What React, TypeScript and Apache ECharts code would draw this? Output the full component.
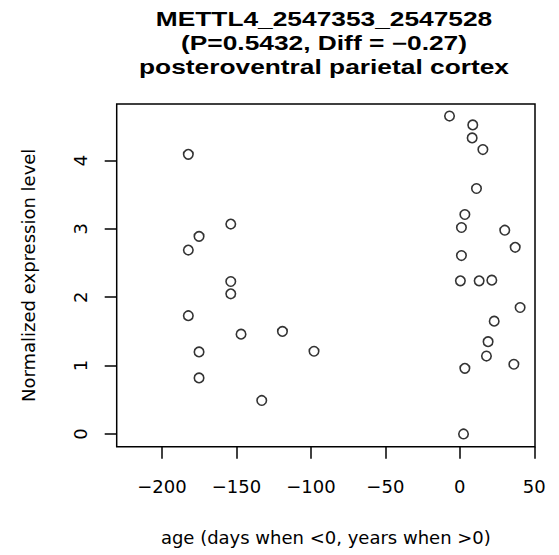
import React, { useEffect, useRef } from "react";
import * as echarts from "echarts";

const titleLines = [
  "METTL4_2547353_2547528",
  "(P=0.5432, Diff = \u22120.27)",
  "posteroventral parietal cortex",
];
const xAxisTitle = "age (days when <0, years when >0)";
const yAxisTitle = "Normalized expression level";

const xTicks = [-200, -150, -100, -50, 0, 50];
const yTicks = [0, 1, 2, 3, 4];

const ages = [
  -182.3, -6.9, 8.7, 8.3, 15.5, 11.2, 3.4, 1.1, 30.2, 37.2, 1.1, 0.4, 13.0,
  21.5, 40.5, 23.1, 19.0, 17.9, 36.3, 3.4, 2.5, -153.8, -175.1, -182.3,
  -153.8, -153.8, -182.3, -146.9, -119.1, -175.1, -97.9, -175.1, -133.0,
];
const expression = [
  4.09, 4.65, 4.52, 4.33, 4.16, 3.59, 3.21, 3.02, 2.98, 2.73, 2.61, 2.24, 2.24,
  2.25, 1.85, 1.65, 1.35, 1.14, 1.02, 0.96, 0.0, 3.07, 2.89, 2.69, 2.23, 2.05,
  1.73, 1.46, 1.5, 1.2, 1.21, 0.82, 0.49,
];

const FONT = "'Liberation Sans', Arial, Helvetica, sans-serif";
const WIDE = "'DejaVu Sans', 'Liberation Sans', sans-serif";

export default function App() {
  const ref = useRef<HTMLDivElement>(null);
  useEffect(() => {
    if (!ref.current) return;
    const chart = echarts.init(ref.current, null, { renderer: "svg" });
    const gridLeft = 116.7;
    const gridRight = 535;
    const gridTop = 104;
    const gridBottom = 446.7;
    const cx = 324;
    const lineCenters = [19.7, 43.7, 67.7];
    chart.setOption({
      animation: false,
      backgroundColor: "#ffffff",
      textStyle: { fontFamily: FONT },
      grid: {
        left: gridLeft,
        top: gridTop,
        width: gridRight - gridLeft,
        height: gridBottom - gridTop,
        show: true,
        borderColor: "#000000",
        borderWidth: 1.5,
        backgroundColor: "transparent",
      },
      graphic: lineCenters.map((y, i) => ({
        type: "text",
        x: cx,
        y,
        scaleX: 1.35,
        style: {
          text: titleLines[i],
          font: `bold 19.5px ${FONT}`,
          fill: "#000000",
          textAlign: "center",
          textVerticalAlign: "middle",
        },
      })),
      xAxis: {
        type: "value",
        min: -230.4,
        max: 50.5,
        name: xAxisTitle,
        nameLocation: "middle",
        nameGap: 82,
        nameTextStyle: { fontSize: 18, color: "#000000", fontFamily: WIDE },
        axisLine: { show: false, onZero: false },
        splitLine: { show: false },
        axisTick: {
          show: true,
          length: 12,
          inside: false,
          customValues: xTicks,
          lineStyle: { color: "#000000", width: 1.5 },
        },
        axisLabel: {
          customValues: xTicks,
          margin: 31,
          fontSize: 18,
          color: "#000000",
          fontFamily: WIDE,
          formatter: (v: number) => String(v).replace("-", "\u2212"),
        },
      },
      yAxis: {
        type: "value",
        min: -0.186,
        max: 4.826,
        name: yAxisTitle,
        nameLocation: "middle",
        nameGap: 79,
        nameRotate: 90,
        nameTextStyle: { fontSize: 18, color: "#000000", fontFamily: WIDE },
        axisLine: { show: false, onZero: false },
        splitLine: { show: false },
        axisTick: {
          show: true,
          length: 12,
          customValues: yTicks,
          lineStyle: { color: "#000000", width: 1.5 },
        },
        axisLabel: {
          customValues: yTicks,
          rotate: 90,
          margin: 27,
          fontSize: 18,
          color: "#000000",
          fontFamily: WIDE,
        },
      },
      series: [
        {
          type: "scatter",
          data: ages.map((a, i) => [a, expression[i]]),
          symbol: "circle",
          symbolSize: 9.5,
          itemStyle: {
            color: "rgba(0,0,0,0)",
            borderColor: "#000000",
            borderWidth: 1.6,
          },
          emphasis: { disabled: true },
        },
      ],
    });
    return () => chart.dispose();
  }, []);
  return (
    <div
      ref={ref}
      style={{ position: "fixed", left: 0, top: 0, width: 559, height: 555 }}
    />
  );
}
